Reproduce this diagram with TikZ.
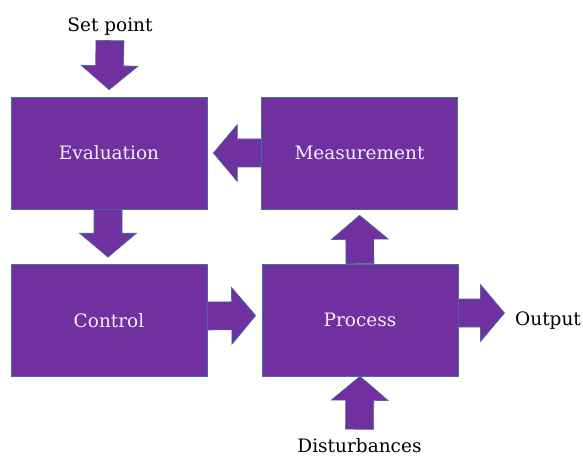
\documentclass[tikz,border=0pt]{standalone}
\usepackage{fontspec}
\setmainfont{DejaVu Serif}
\usetikzlibrary{calc}
\definecolor{purp}{HTML}{7030A0}
\definecolor{rim}{HTML}{41719C}
\definecolor{lav}{HTML}{F4EEFA}
\def\tipgap{6pt}

\tikzset{
  block/.style={draw=rim,fill=purp,line width=0.6pt,text=lav,
    minimum width=196pt,minimum height=112pt},
  tag/.style={inner sep=4.5pt},
  tipgap/.code={\def\tipgap{#1}},
  % fat block arrow from start to target, tip kept \tipgap short
  fatarrow/.style={draw=rim,fill=purp,line width=0.6pt,
    to path={
      ($(\tikztostart)!14pt!90:(\tikztotarget)$)
      -- ($(\tikztotarget)!\tipgap!(\tikztostart)!24pt!(\tikztostart)!14pt!-90:(\tikztostart)$)
      -- ($(\tikztotarget)!\tipgap!(\tikztostart)!24pt!(\tikztostart)!28.5pt!-90:(\tikztostart)$)
      -- ($(\tikztotarget)!\tipgap!(\tikztostart)$)
      -- ($(\tikztotarget)!\tipgap!(\tikztostart)!24pt!(\tikztostart)!28.5pt!90:(\tikztostart)$)
      -- ($(\tikztotarget)!\tipgap!(\tikztostart)!24pt!(\tikztostart)!14pt!90:(\tikztostart)$)
      -- ($(\tikztostart)!14pt!-90:(\tikztotarget)$)
      -- cycle}}
}

\begin{document}
\begin{tikzpicture}[x=1pt,y=-1pt,nodes={font=\fontsize{18.5}{22}\selectfont}]
\useasboundingbox (0,0) rectangle (583,457);
% the four blocks
\foreach \name/\x/\y/\txt in {
  eval/109/153/Evaluation,
  meas/359.5/153/Measurement,
  ctrl/109/320.5/Control,
  proc/360/320/Process
} {
  \node[block] (\name) at (\x,\y) {\txt};
}
% outside texts
\node[tag,anchor=base] (sp) at (110,32) {Set point};
\node[tag,anchor=base west] (out) at (510.5,325) {Output};
\node[tag,anchor=base] (dist) at (359.5,452) {Disturbances};
% arrows
\path[fatarrow,tipgap=7pt] (sp.south) to (eval.north);
\path[fatarrow] (meas.west) to (eval.east);
\path[fatarrow,tipgap=7pt] ([xshift=-1pt]eval.south) to ([xshift=-1pt]ctrl.north);
\path[fatarrow] ([yshift=4.5pt]ctrl.east) to ([yshift=4.5pt]proc.west);
\path[fatarrow] (proc.north) to (meas.south);
\path[fatarrow] ([yshift=7pt]proc.east) to ([yshift=7pt]proc.east -| out.west);
\path[fatarrow,tipgap=0pt] ([yshift=4pt]dist.north) to (proc.south);
\end{tikzpicture}
\end{document}
